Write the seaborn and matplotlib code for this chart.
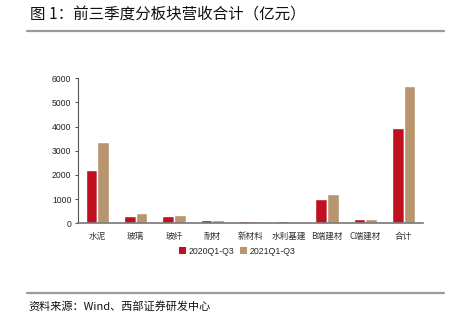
import matplotlib
matplotlib.use("Agg")
import matplotlib.pyplot as plt
from matplotlib.lines import Line2D
from matplotlib.patches import Patch
import seaborn as sns
import pandas as pd

# 各板块前三季度营收（亿元）
sectors = ["水泥", "玻璃", "玻纤", "耐材", "新材料", "水利基建", "B端建材", "C端建材", "合计"]
rev_2020 = [2200, 320, 290, 150, 110, 100, 990, 170, 3930]
rev_2021 = [3370, 420, 350, 140, 80, 50, 1230, 190, 5700]
periods = ["2020Q1-Q3", "2021Q1-Q3"]
yticks = [0, 1000, 2000, 3000, 4000, 5000, 6000]

df = pd.DataFrame({
    "板块": sectors * 2,
    "营收": rev_2020 + rev_2021,
    "期间": [periods[0]] * len(sectors) + [periods[1]] * len(sectors),
})

sns.set_theme(style="white")
plt.rcParams["font.family"] = ["Noto Sans CJK SC", "Liberation Sans", "DejaVu Sans"]

colors = ["#C00F1F", "#B8956F"]
W, H = 453, 324
fig = plt.figure(figsize=(W / 100, H / 100), dpi=100)
ax = fig.add_axes([78.3 / W, 1 - 223.3 / H, (422.7 - 78.3) / W, (223.3 - 78.3) / H])

sns.barplot(data=df, x="板块", y="营收", hue="期间", palette=colors,
            width=0.61, gap=0, ax=ax, legend=False, saturation=1)

ax.set_ylim(0, 6000)
ax.set_xlim(-0.5, len(sectors) - 0.5)
ax.set_yticks(yticks)
ax.set_yticklabels([str(v) for v in yticks], fontsize=6.2,
                   family=["Liberation Sans", "DejaVu Sans"])
ax.set_xlabel("")
ax.set_ylabel("")

# category labels without marks, separators between groups
ax.set_xticks(range(len(sectors)))
ax.set_xticklabels(sectors, fontsize=6.2)
ax.tick_params(axis="x", which="major", length=0, pad=6, colors="#333333")
ax.set_xticks([i - 0.5 for i in range(len(sectors) + 1)], minor=True)
ax.tick_params(axis="x", which="minor", length=4, direction="inout",
               width=0.8, color="#666666")
ax.tick_params(axis="y", which="major", length=2.5, width=0.8, direction="out",
               left=True, pad=2.5, color="#555555", labelcolor="#222222")

for side in ("top", "right"):
    ax.spines[side].set_visible(False)
ax.spines["left"].set_color("#555555")
ax.spines["left"].set_linewidth(0.8)
ax.spines["bottom"].set_color("#777777")
ax.spines["bottom"].set_linewidth(1.2)
ax.grid(False)

handles = [Patch(facecolor=c, edgecolor="none", label=p) for c, p in zip(colors, periods)]
fig.legend(handles=handles, loc="center", bbox_to_anchor=(237 / W, 1 - 251 / H),
           ncol=2, frameon=False, prop={"family": ["Liberation Sans"], "size": 6.3},
           handlelength=0.8, handleheight=0.8, handletextpad=0.3, columnspacing=0.6)

# header and footer
fig.text(30 / W, 1 - 15.5 / H, "图 1：前三季度分板块营收合计（亿元）",
         fontsize=11.2, va="center", ha="left", color="#111111")
fig.add_artist(Line2D([27 / W, 444 / W], [1 - 30.5 / H] * 2, color="#9a9a9a", lw=1.6))
fig.add_artist(Line2D([27 / W, 444 / W], [1 - 292.7 / H] * 2, color="#9a9a9a", lw=1.6))
fig.text(28 / W, 1 - 306.5 / H, "资料来源：Wind、西部证券研发中心",
         fontsize=8.0, va="center", ha="left", color="#111111")

fig.savefig("out.png", dpi=100)
